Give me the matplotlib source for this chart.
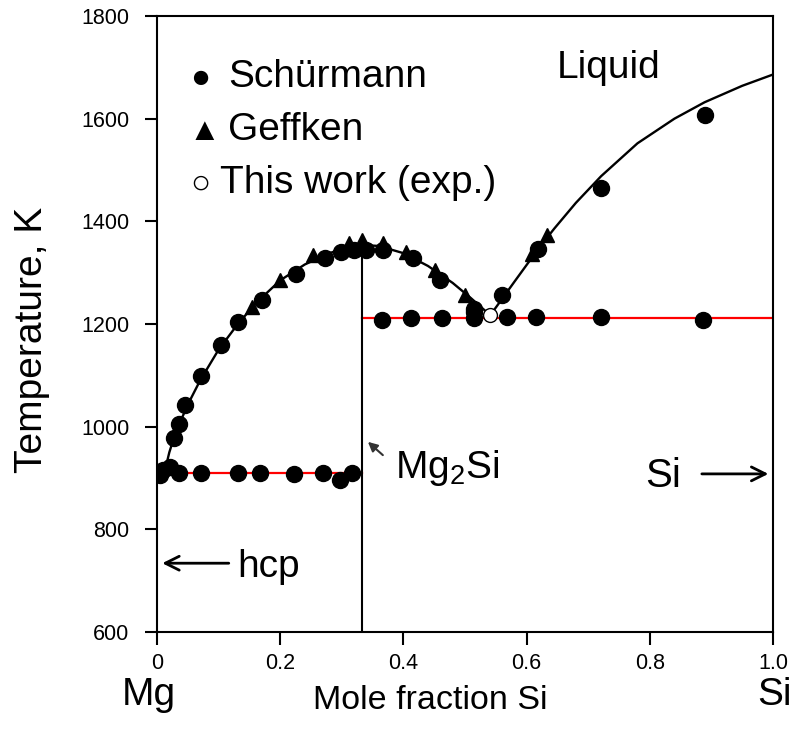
import matplotlib
matplotlib.use("Agg")
import matplotlib.pyplot as plt

plt.rcParams['font.family'] = ['Liberation Sans', 'DejaVu Sans']
plt.rcParams['mathtext.fontset'] = 'custom'
plt.rcParams['mathtext.rm'] = 'Liberation Sans'
plt.rcParams['mathtext.it'] = 'Liberation Sans:italic'

# Schürmann data (filled circles)
sch_x = [0.027, 0.036, 0.045, 0.071, 0.104, 0.132, 0.170, 0.226, 0.272, 0.299, 0.319, 0.340, 0.367,
         0.416, 0.459, 0.514, 0.560, 0.619, 0.721, 0.889,
         0.005, 0.010, 0.021, 0.036, 0.071, 0.132, 0.167, 0.222, 0.270, 0.297, 0.317,
         0.366, 0.412, 0.462, 0.514, 0.514, 0.568, 0.616, 0.721, 0.887]
sch_T = [978, 1006, 1042, 1098, 1160, 1204, 1247, 1298, 1328, 1341, 1344, 1345, 1344,
         1328, 1285, 1230, 1256, 1347, 1464, 1607,
         906, 915, 922, 910, 909, 910, 909, 908, 909, 897, 909,
         1208, 1211, 1211, 1211, 1224, 1213, 1214, 1214, 1208]

# Geffken data (filled triangles)
gef_x = [0.154, 0.200, 0.254, 0.311, 0.332, 0.367, 0.405, 0.451, 0.500, 0.608, 0.633]
gef_T = [1233, 1285, 1334, 1357, 1363, 1357, 1341, 1305, 1256, 1337, 1373]

# This work (open circle)
tw_x = [0.541]
tw_T = [1217]

# Calculated liquidus
liq1_x = [0.0, 0.012, 0.02, 0.03, 0.05, 0.07, 0.10, 0.13, 0.16, 0.20, 0.24, 0.28, 0.31, 0.333]
liq1_T = [923, 910, 950, 988, 1043, 1090, 1150, 1198, 1240, 1285, 1316, 1338, 1350, 1354]
liq2_x = [0.333, 0.36, 0.40, 0.44, 0.48, 0.51, 0.541]
liq2_T = [1354, 1352, 1338, 1313, 1280, 1250, 1217]
liq3_x = [0.541, 0.58, 0.62, 0.645, 0.68, 0.721, 0.78, 0.84, 0.889, 0.95, 1.0]
liq3_T = [1217, 1282, 1348, 1386, 1436, 1488, 1552, 1600, 1632, 1664, 1686]

# Eutectic lines and Mg2Si compound line
eut1_x = [0.0, 0.333]
eut1_T = [909, 909]
eut2_x = [0.333, 1.0]
eut2_T = [1212, 1212]
mg2si_x = [0.333, 0.333]
mg2si_T = [600, 1352]

xticks = [0, 0.2, 0.4, 0.6, 0.8, 1.0]
xtick_labels = ['0', '0.2', '0.4', '0.6', '0.8', '1.0']
yticks = [600, 800, 1000, 1200, 1400, 1600, 1800]

W, H = 791, 736
fig = plt.figure(figsize=(W / 100, H / 100), dpi=100)
ax = fig.add_axes([157 / W, 1 - 632 / H, 616 / W, 616 / H])


def ftext(px, py, s, **kw):
    fig.text(px / W, 1 - py / H, s, **kw)


ax.plot(eut1_x, eut1_T, color='red', lw=1.6, zorder=1)
ax.plot(eut2_x, eut2_T, color='red', lw=1.6, zorder=1)
ax.plot(mg2si_x, mg2si_T, color='black', lw=1.5, zorder=2)
for lx, lt in [(liq1_x, liq1_T), (liq2_x, liq2_T), (liq3_x, liq3_T)]:
    ax.plot(lx, lt, color='black', lw=1.7, zorder=2)

ax.plot(sch_x, sch_T, 'o', color='black', ms=11.5, zorder=3, linestyle='none')
ax.plot(gef_x, gef_T, '^', color='black', ms=10.5, zorder=3, linestyle='none')
ax.plot(tw_x, tw_T, 'o', mfc='white', mec='black', mew=1.0, ms=10, zorder=4, linestyle='none')

ax.set_xlim(0, 1.0)
ax.set_ylim(600, 1800)
ax.set_xticks(xticks)
ax.set_xticklabels(xtick_labels)
ax.set_yticks(yticks)
ax.tick_params(direction='out', length=9, width=1.5, labelsize=15.5)
ax.tick_params(axis='x', pad=6)
ax.tick_params(axis='y', pad=11)
for s in ax.spines.values():
    s.set_linewidth(1.5)

FS = 28
ftext(32, 340, 'Temperature, K', fontsize=28, rotation=90, ha='center', va='center')
ftext(313, 709, 'Mole fraction Si', fontsize=24.5, ha='left', va='baseline')
ftext(122, 705, 'Mg', fontsize=FS, ha='left', va='baseline')
ftext(757, 705, 'Si', fontsize=FS, ha='left', va='baseline')

# Legend-like text
ftext(190, 87, '●', fontsize=24, ha='left', va='baseline')
ftext(228, 87, 'Schürmann', fontsize=FS, ha='left', va='baseline')
ftext(189, 140, '▲', fontsize=23, ha='left', va='baseline')
ftext(228, 140, 'Geffken', fontsize=FS, ha='left', va='baseline')
ftext(190, 193, '○', fontsize=24, ha='left', va='baseline')
ftext(220, 193, 'This work (exp.)', fontsize=FS, ha='left', va='baseline')

ftext(557, 78, 'Liquid', fontsize=FS, ha='left', va='baseline')
ftext(395, 478, 'Mg$_2$Si', fontsize=FS, ha='left', va='baseline')
ax.annotate('', xy=(0.339, 974), xytext=(0.370, 941),
            arrowprops=dict(arrowstyle='-|>', color='#333333', lw=1.5, mutation_scale=14))

ftext(645, 487, 'Si', fontsize=29, ha='left', va='baseline')
ax.annotate('', xy=(0.997, 908), xytext=(0.880, 908),
            arrowprops=dict(arrowstyle='->', color='black', lw=2, mutation_scale=25))

ftext(237, 577, 'hcp', fontsize=FS, ha='left', va='baseline')
ax.annotate('', xy=(0.004, 734), xytext=(0.121, 734),
            arrowprops=dict(arrowstyle='->', color='black', lw=2, mutation_scale=25))

fig.savefig('out.png', dpi=100)
